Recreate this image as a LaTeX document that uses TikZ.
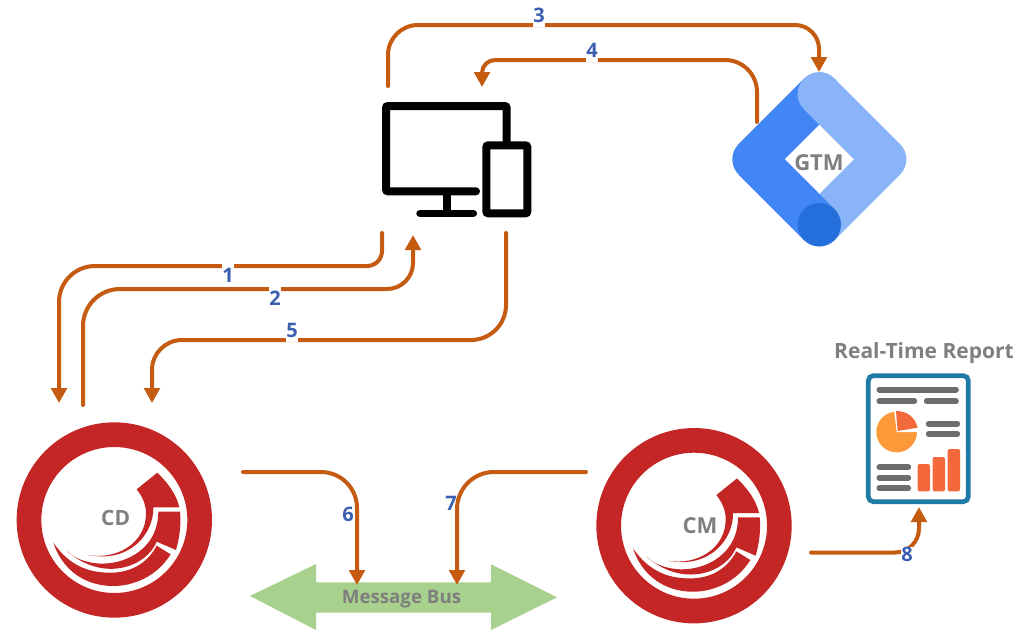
\documentclass[tikz,border=0pt]{standalone}
\usepackage{fontspec}
\setmainfont{Open Sans}
\usetikzlibrary{arrows.meta}
\definecolor{conn}{HTML}{C55A11}
\definecolor{numblue}{HTML}{3B5FAE}
\definecolor{labgray}{HTML}{7F7F7F}
\definecolor{sitered}{HTML}{C42626}
\definecolor{busgreen}{HTML}{A9D18E}
\definecolor{gtmdark}{HTML}{4285F4}
\definecolor{gtmlight}{HTML}{8AB4F8}
\definecolor{gtmcirc}{HTML}{246FDB}
\definecolor{repframe}{HTML}{1F7BA5}
\definecolor{repgray}{HTML}{6D6D6D}
\definecolor{reporange}{HTML}{FC9A3A}
\definecolor{repred}{HTML}{F4693B}
\tikzset{
  connector/.style={draw=conn,line width=4pt,line cap=round,line join=round},
  tipped/.style={connector,-{Triangle[length=15pt,width=15.5pt]}},
  numlabel/.style={text=numblue,font=\fontsize{20}{20}\selectfont\bfseries,inner sep=0pt},
  gapped/.style={numlabel,fill=white,minimum width=11pt,minimum height=24pt},
  iconlabel/.style={text=labgray,font=\fontsize{#1}{#1}\selectfont\bfseries,inner sep=0pt},
  repline/.style={draw=repgray,line width=5.7pt,line cap=round},
  repbar/.style={fill=repred,rounded corners=2pt},
  zoomunits/.style={x=0.33333pt,y=-0.33333pt}
}
\newcommand{\sclogo}[2]{%
  \begin{scope}[shift={(#1,#2)},zoomunits]
    \draw[sitered,line width=24.67pt] (343,360) circle[radius=256];
    \fill[sitered] (410,268) -- (472,218) .. controls (505,250) and (530,285) .. (538,322) -- (460,322)
      .. controls (462,400) and (390,490) .. (265,465) .. controls (350,480) and (438,430) .. (438,340)
      .. controls (438,315) and (428,290) .. (410,268) -- cycle;
    \fill[sitered] (475,335) -- (540,335) .. controls (544,375) and (538,415) .. (528,450) -- (470,425)
      .. controls (440,500) and (310,550) .. (200,452) .. controls (280,530) and (475,490) .. (475,335) -- cycle;
    \fill[sitered] (470,437) -- (512,463) .. controls (470,530) and (400,558) .. (340,558)
      .. controls (250,558) and (185,505) .. (160,428) .. controls (210,500) and (270,520) .. (340,518)
      .. controls (400,515) and (445,485) .. (470,437) -- cycle;
  \end{scope}}
\begin{document}
\begin{tikzpicture}[x=1pt,y=-1pt]
\useasboundingbox (0,0) rectangle (1029,641);
\fill[white] (0,0) rectangle (1029,641);

% Sitecore logos
\sclogo{0}{400}
\sclogo{579.7}{405.7}

% Message bus arrow
\fill[busgreen] (250,596) -- (316,564) -- (316,582.3) -- (491,582.3) -- (491,564.3) -- (557,597.3)
  -- (491,630) -- (491,612.7) -- (316,612.7) -- (316,630) -- cycle;

% Devices
\begin{scope}[shift={(370,90)},zoomunits]
  \draw[black,line width=8pt,line cap=round,rounded corners=2pt] (410,160) -- (410,48) -- (48,48) -- (48,304) -- (318,304);
  \draw[black,line width=8pt] (230,304) -- (230,370);
  \draw[black,line width=7.5pt,line cap=round] (150,370) -- (310,370);
  \draw[black,line width=8pt,rounded corners=2pt] (349,166) rectangle (472,370);
\end{scope}

% GTM logo
\begin{scope}[shift={(720,60)},zoomunits]
  \draw[gtmdark,line width=43.33pt,line cap=round,line join=round] (298,102) -- (102,298) -- (298,494);
  \draw[gtmlight,line width=43.33pt,line cap=round,line join=round] (298,102) -- (494,298) -- (298,494);
  \draw[gtmdark,line width=43.33pt] (102,298) -- (298,494);
  \fill[gtmcirc] (298,494) circle[radius=65];
\end{scope}

% Report icon
\begin{scope}[shift={(820,330)},zoomunits]
  \draw[repframe,fill=white,line width=4.7pt,rounded corners=5pt] (145,137) rectangle (445,515);
  \draw[repline] (178,179) -- (408,179);
  \draw[repline] (178,214) -- (283,214);
  \draw[repline] (320,214) -- (408,214);
  \draw[repline] (326,281) -- (412,281);
  \draw[repline] (326,311) -- (412,311);
  \draw[repline] (178,412) -- (265,412);
  \draw[repline] (178,443) -- (265,443);
  \draw[repline] (178,475) -- (265,475);
  \fill[reporange] (230,306) circle[radius=61];
  \fill[white] (230,306) -- (222,238) -- (300,238) -- (300,306) -- cycle;
  \fill[repred] (228,243) .. controls (262,243) and (285,262) .. (293,293) -- (233,303) -- cycle;
  \fill[repbar] (293,402) rectangle (330,484);
  \fill[repbar] (338,381) rectangle (375,484);
  \fill[repbar] (383,357) rectangle (420,484);
\end{scope}

% Connector ends and routing points
\coordinate (a1) at (382,233);  \coordinate (b1) at (59,403);  \coordinate (m1) at (220,266);
\coordinate (a2) at (83,405);   \coordinate (b2) at (413,235); \coordinate (m2) at (220,289);
\coordinate (a3) at (388,86);   \coordinate (b3) at (819,72);  \coordinate (m3) at (600,25);
\coordinate (a4) at (757,122);  \coordinate (b4) at (482,87);  \coordinate (m4) at (600,60);
\coordinate (a5) at (506,233);  \coordinate (b5) at (152,403); \coordinate (m5) at (300,340);
\coordinate (a6) at (243,472);  \coordinate (b6) at (357,585);
\coordinate (a7) at (586,472);  \coordinate (b7) at (457,585);
\coordinate (a8) at (811,552.5);\coordinate (b8) at (919,507);

\draw[tipped] (a1) [rounded corners=15pt] -- (a1 |- m1) [rounded corners=36pt] -- (b1 |- m1) -- (b1);
\draw[tipped] (a2) [rounded corners=37pt] -- (a2 |- m2) [rounded corners=26pt] -- (b2 |- m2) -- (b2);
\draw[tipped] (a3) [rounded corners=30pt] -- (a3 |- m3) [rounded corners=24pt] -- (b3 |- m3) -- (b3);
\draw[tipped] (a4) [rounded corners=32pt] -- (a4 |- m4) [rounded corners=13pt] -- (b4 |- m4) -- (b4);
\draw[tipped] (a5) [rounded corners=35pt] -- (a5 |- m5) [rounded corners=30pt] -- (b5 |- m5) -- (b5);
\draw[tipped] (a6) [rounded corners=36pt] -- (b6 |- a6) -- (b6);
\draw[tipped] (a7) [rounded corners=37pt] -- (b7 |- a7) -- (b7);
\draw[tipped] (a8) [rounded corners=24pt] -- (b8 |- a8) -- (b8);

% Number labels
\node[gapped] (n1) at (228,275) {1};
\node[gapped] (n2) at (275,298) {2};
\node[gapped] (n3) at (539,15) {3};
\node[gapped] (n4) at (592,50) {4};
\node[gapped] (n5) at (292,330) {5};
\node[numlabel] (n6) at (348,514) {6};
\node[numlabel] (n7) at (451,503) {7};
\node[numlabel,fill=white,minimum width=11pt] (n8) at (907,554) {8};

% Icon labels
\node[iconlabel=21] (cd) at (115.7,518) {CD};
\node[iconlabel=22] (cm) at (700,526) {CM};
\node[iconlabel=22] (gtm) at (819,163) {GTM};
\node[iconlabel=18.7] (bus) at (401.5,599.5) {Message Bus};
\node[iconlabel=21] (report) at (924,353) {Real-Time Report};
\end{tikzpicture}
\end{document}
